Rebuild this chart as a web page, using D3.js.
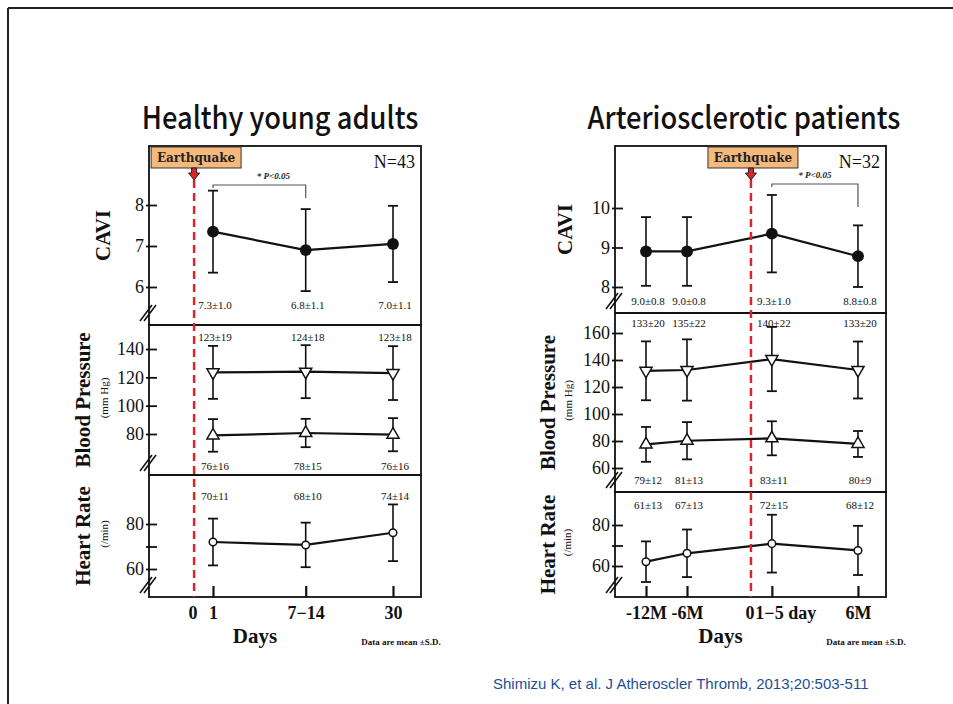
<!DOCTYPE html>
<html>
<head>
<meta charset="utf-8">
<script src="https://cdn.jsdelivr.net/npm/d3@7"></script>
<style>
  body { margin: 0; background: #fff; }
</style>
</head>
<body>
<div id="chart"></div>
<script>
// ---------- data: healthy young adults ----------
const hyTimes = ["1", "7−14", "30"];
const hySlot = [0, 1.03, 2];
const hyCaviMean = [7.35, 6.9, 7.05];
const hyCaviSd = [1.0, 1.0, 0.93];
const hyCaviText = ["7.3±1.0", "6.8±1.1", "7.0±1.1"];
const hySbpMean = [123.5, 124, 123];
const hySbpSd = [18.7, 18.7, 19];
const hySbpText = ["123±19", "124±18", "123±18"];
const hyDbpMean = [79, 80.7, 79.5];
const hyDbpSd = [11.5, 10, 11.7];
const hyDbpText = ["76±16", "78±15", "76±16"];
const hyHrMean = [72, 70.7, 76.1];
const hyHrSd = [10.4, 9.9, 12.6];
const hyHrText = ["70±11", "68±10", "74±14"];

// ---------- data: arteriosclerotic patients ----------
const apTimes = ["-12M", "-6M", "1−5 day", "6M"];
const apSlot = [0, 1, 3.07, 5.17];
const apCaviMean = [8.9, 8.9, 9.35, 8.78];
const apCaviSd = [0.87, 0.87, 0.98, 0.78];
const apCaviText = ["9.0±0.8", "9.0±0.8", "9.3±1.0", "8.8±0.8"];
const apSbpMean = [132, 132.6, 140.7, 132.6];
const apSbpSd = [21.8, 22.7, 23.8, 21.1];
const apSbpText = ["133±20", "135±22", "140±22", "133±20"];
const apDbpMean = [77.5, 80.2, 82, 77.8];
const apDbpSd = [12.9, 13.8, 12.6, 9.6];
const apDbpText = ["79±12", "81±13", "83±11", "80±9"];
const apHrMean = [62.1, 66.2, 70.9, 67.6];
const apHrSd = [9.9, 11.6, 14.1, 12];
const apHrText = ["61±13", "67±13", "72±15", "68±12"];

const W = 953, H = 704;
const svg = d3.select("#chart").append("svg")
  .attr("width", W).attr("height", H);

svg.append("rect").attr("width", W).attr("height", H).attr("fill", "#fff");
// slide border (top + left)
svg.append("line").attr("x1", 8).attr("x2", W).attr("y1", 8).attr("y2", 8)
  .attr("stroke", "#222").attr("stroke-width", 2);
svg.append("line").attr("x1", 8).attr("x2", 8).attr("y1", 8).attr("y2", H)
  .attr("stroke", "#222").attr("stroke-width", 2);

const zip = (m, s, t) => m.map((v, i) => ({ i, mean: v, sd: s[i], text: t[i] }));

const groups = [
  {
    title: "Healthy young adults", titleX: 280,
    left: 149, right: 421, top: 146, bottom: 597,
    slots: hySlot, times: hyTimes, eqSlot: -0.21, shiftFirstAfterEq: false,
    xDomain: [0, 2], xRange: [213, 393],
    n: "N=43",
    sig: { from: 0, to: 1, y: 185, dropL: 3, dropR: 13, textDx: 14 },
    rows: [
      { top: 146, bottom: 325, dom: [6, 8], rng: [287, 205], ticks: [6, 7, 8],
        title: "CAVI", tx: 103, sub: null,
        series: [{ d: zip(hyCaviMean, hyCaviSd, hyCaviText), sym: "dot", labY: 309 }] },
      { top: 325, bottom: 475, dom: [80, 140], rng: [434, 349], ticks: [80, 100, 120, 140],
        title: "Blood Pressure", tx: 83, sub: "(mm Hg)", sx: 104,
        series: [
          { d: zip(hySbpMean, hySbpSd, hySbpText), sym: "down", labY: 341 },
          { d: zip(hyDbpMean, hyDbpSd, hyDbpText), sym: "up", labY: 470 }] },
      { top: 475, bottom: 597, dom: [60, 80], rng: [569, 524], ticks: [60, 70, 80], minor: 70,
        title: "Heart Rate", tx: 83, sub: "(/min)", sx: 104,
        series: [{ d: zip(hyHrMean, hyHrSd, hyHrText), sym: "ring", labY: 500 }] }
    ]
  },
  {
    title: "Arteriosclerotic patients", titleX: 744,
    left: 615, right: 886, top: 146, bottom: 597,
    slots: apSlot, times: apTimes, eqSlot: 2.56, shiftFirstAfterEq: true,
    xDomain: [0, 1], xRange: [646, 687],
    n: "N=32",
    sig: { from: 2, to: 3, y: 184, dropL: 3, dropR: 23, textDx: 0 },
    rows: [
      { top: 146, bottom: 313, dom: [8, 10], rng: [287, 208], ticks: [8, 9, 10],
        title: "CAVI", tx: 565, sub: null,
        series: [{ d: zip(apCaviMean, apCaviSd, apCaviText), sym: "dot", labY: 305 }] },
      { top: 313, bottom: 492, dom: [60, 160], rng: [468, 333], ticks: [60, 80, 100, 120, 140, 160],
        title: "Blood Pressure", tx: 548, sub: "(mm Hg)", sx: 568,
        series: [
          { d: zip(apSbpMean, apSbpSd, apSbpText), sym: "down", labY: 327 },
          { d: zip(apDbpMean, apDbpSd, apDbpText), sym: "up", labY: 484 }] },
      { top: 492, bottom: 597, dom: [60, 80], rng: [566, 525], ticks: [60, 70, 80], minor: 70,
        title: "Heart Rate", tx: 548, sub: "(/min)", sx: 567,
        series: [{ d: zip(apHrMean, apHrSd, apHrText), sym: "ring", labY: 509 }] }
    ]
  }
];

const serif = "Liberation Serif, DejaVu Serif, serif";

groups.forEach(g => {
  const x = d3.scaleLinear().domain(g.xDomain).range(g.xRange);
  const gx = i => x(g.slots[i]);
  const eqX = x(g.eqSlot);
  const root = svg.append("g");

  // title (slightly condensed gothic look)
  root.append("text")
    .attr("transform", `translate(${g.titleX},129) scale(0.88,1)`)
    .attr("text-anchor", "middle")
    .style("font-family", "Noto Sans CJK JP, Liberation Sans, sans-serif")
    .style("font-weight", "500")
    .style("font-size", "31px")
    .attr("fill", "#111")
    .text(g.title);

  g.rows.forEach(r => {
    const y = d3.scaleLinear().domain(r.dom).range(r.rng);

    // frame for this row
    root.append("rect")
      .attr("x", g.left).attr("y", r.top)
      .attr("width", g.right - g.left).attr("height", r.bottom - r.top)
      .attr("fill", "none").attr("stroke", "#111").attr("stroke-width", 1.8);

    // y axis
    const ax = root.append("g")
      .attr("transform", `translate(${g.left},0)`)
      .call(d3.axisLeft(y).tickValues(r.ticks)
        .tickSizeInner(-8).tickSizeOuter(0).tickPadding(5)
        .tickFormat(d => d === r.minor ? "" : d));
    ax.select(".domain").remove();
    ax.selectAll(".tick line").attr("x1", -3).attr("stroke", "#111").attr("stroke-width", 1.8);
    ax.selectAll(".tick text")
      .style("font-family", serif).style("font-size", "18px").attr("fill", "#111");

    // break mark
    const by = r.bottom - 12;
    [-2, 2].forEach(o => {
      root.append("line")
        .attr("x1", g.left - 7 + o).attr("y1", by + 8)
        .attr("x2", g.left + 5 + o).attr("y2", by - 8)
        .attr("stroke", "#111").attr("stroke-width", 1.5);
    });

    // axis title
    const cy = (r.top + r.bottom) / 2;
    root.append("text")
      .attr("transform", `translate(${r.tx},${cy}) rotate(-90)`)
      .attr("text-anchor", "middle").attr("dominant-baseline", "central")
      .style("font-family", serif).style("font-weight", "bold").style("font-size", "21px")
      .attr("fill", "#111")
      .text(r.title);
    if (r.sub) {
      root.append("text")
        .attr("transform", `translate(${r.sx},${cy - 2}) rotate(-90)`)
        .attr("text-anchor", "middle").attr("dominant-baseline", "central")
        .style("font-family", serif).style("font-size", "11px")
        .attr("fill", "#111")
        .text(r.sub);
    }

    r.series.forEach(s => {
      const line = d3.line().x(d => gx(d.i)).y(d => y(d.mean));
      root.append("path").datum(s.d)
        .attr("d", line).attr("fill", "none")
        .attr("stroke", "#111").attr("stroke-width", 2.2);

      const eb = root.append("g").selectAll("g").data(s.d).join("g");
      eb.append("line")
        .attr("x1", d => gx(d.i)).attr("x2", d => gx(d.i))
        .attr("y1", d => y(d.mean - d.sd)).attr("y2", d => y(d.mean + d.sd))
        .attr("stroke", "#111").attr("stroke-width", 1.6);
      [1, -1].forEach(k => {
        eb.append("line")
          .attr("x1", d => gx(d.i) - 5).attr("x2", d => gx(d.i) + 5)
          .attr("y1", d => y(d.mean + k * d.sd)).attr("y2", d => y(d.mean + k * d.sd))
          .attr("stroke", "#111").attr("stroke-width", 1.8);
      });

      const marks = root.append("g").selectAll("path").data(s.d).join("path");
      if (s.sym === "dot") {
        marks.attr("d", d3.symbol(d3.symbolCircle, 110))
          .attr("fill", "#111");
      } else if (s.sym === "ring") {
        marks.attr("d", d3.symbol(d3.symbolCircle, 45))
          .attr("fill", "#fff").attr("stroke", "#111").attr("stroke-width", 1.5);
      } else {
        marks.attr("d", d3.symbol(d3.symbolTriangle, 64))
          .attr("fill", "#fff").attr("stroke", "#111").attr("stroke-width", 1.5);
      }
      marks.attr("transform", d =>
        `translate(${gx(d.i)},${y(d.mean)})` + (s.sym === "down" ? " rotate(180)" : ""));

      root.append("g").selectAll("text").data(s.d).join("text")
        .attr("x", d => gx(d.i) + 2).attr("y", s.labY)
        .attr("text-anchor", "middle")
        .style("font-family", serif).style("font-size", "11px")
        .attr("fill", "#111")
        .text(d => d.text);
    });
  });

  // x axis (bottom)
  const xa = root.append("g")
    .attr("transform", `translate(0,${g.bottom})`)
    .call(d3.axisBottom(x).tickValues(g.slots)
      .tickSizeInner(-11).tickSizeOuter(0).tickPadding(9)
      .tickFormat((d, i) => g.times[i]));
  xa.select(".domain").remove();
  xa.selectAll(".tick line").attr("stroke", "#111").attr("stroke-width", 2.2);
  const xt = xa.selectAll(".tick text")
    .style("font-family", serif).style("font-weight", "bold").style("font-size", "18px")
    .attr("fill", "#111");
  if (g.shiftFirstAfterEq) {
    xt.filter(d => d > g.eqSlot && d < g.eqSlot + 1)
      .attr("text-anchor", "start").attr("dx", -17);
  }

  root.append("text")
    .attr("x", eqX - 1).attr("y", g.bottom + 22)
    .attr("text-anchor", "middle")
    .style("font-family", serif).style("font-weight", "bold").style("font-size", "18px")
    .attr("fill", "#111")
    .text("0");

  root.append("text")
    .attr("x", (g.left + g.right) / 2 - 30).attr("y", g.bottom + 46)
    .attr("text-anchor", "middle")
    .style("font-family", serif).style("font-weight", "bold").style("font-size", "21px")
    .attr("fill", "#111")
    .text("Days");

  root.append("text")
    .attr("x", g.right - 20).attr("y", g.bottom + 48)
    .attr("text-anchor", "middle")
    .style("font-family", serif).style("font-weight", "bold").style("font-size", "9px")
    .attr("fill", "#111")
    .text("Data are mean ±S.D.");

  // earthquake line
  root.append("line")
    .attr("x1", eqX).attr("x2", eqX).attr("y1", 180).attr("y2", g.bottom)
    .attr("stroke", "#d8262b").attr("stroke-width", 2.5)
    .attr("stroke-dasharray", "8,5");

  // earthquake box + arrow
  root.append("rect")
    .attr("x", eqX - 43).attr("y", g.top + 1)
    .attr("width", 90).attr("height", 21)
    .attr("fill", "#f6b97d").attr("stroke", "#333").attr("stroke-width", 1);
  root.append("text")
    .attr("x", eqX + 2).attr("y", g.top + 16)
    .attr("text-anchor", "middle")
    .style("font-family", "DejaVu Serif, serif").style("font-weight", "bold").style("font-size", "12px")
    .attr("fill", "#222")
    .text("Earthquake");
  root.append("path")
    .attr("d", `M${eqX - 2.5},${g.top + 22} h5 v5 h3 l-5.5,7 l-5.5,-7 h3 z`)
    .attr("fill", "#d8262b").attr("stroke", "#222").attr("stroke-width", 1);

  // N label
  root.append("text")
    .attr("x", g.right - 6).attr("y", g.top + 22)
    .attr("text-anchor", "end")
    .style("font-family", serif).style("font-size", "18px")
    .attr("fill", "#111")
    .text(g.n);

  // significance bracket
  const s = g.sig;
  const x1 = gx(s.from), x2 = gx(s.to);
  root.append("path")
    .attr("d", `M${x1},${s.y + s.dropL} V${s.y} H${x2} V${s.y + s.dropR}`)
    .attr("fill", "none").attr("stroke", "#555").attr("stroke-width", 1.2);
  root.append("text")
    .attr("x", (x1 + x2) / 2 + s.textDx).attr("y", s.y - 6)
    .attr("text-anchor", "middle")
    .style("font-family", serif).style("font-style", "italic").style("font-weight", "bold")
    .style("font-size", "9px")
    .attr("fill", "#222")
    .text("* P<0.05");
});

// citation
svg.append("text")
  .attr("x", 493).attr("y", 689)
  .style("font-family", "Liberation Sans, Arial, sans-serif").style("font-size", "15px")
  .attr("fill", "#1d4f98")
  .text("Shimizu K, et al. J Atheroscler Thromb, 2013;20:503-511");
</script>
</body>
</html>
